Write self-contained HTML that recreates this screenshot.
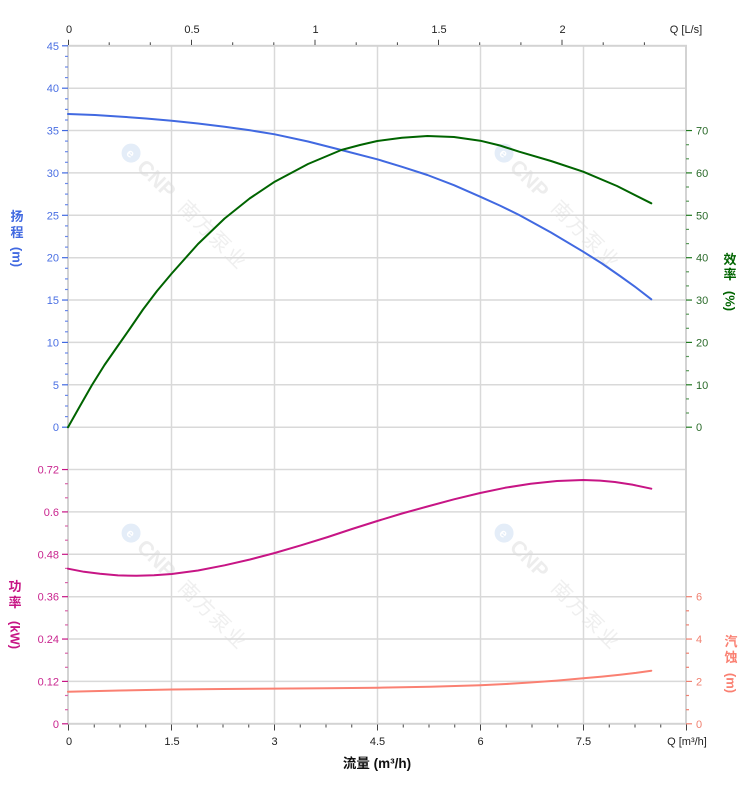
<!DOCTYPE html>
<html><head><meta charset="utf-8"><style>
html,body{margin:0;padding:0;background:#fff;}
svg{display:block;font-family:"Liberation Sans","Noto Sans CJK SC",sans-serif;}
</style></head><body>
<svg width="752" height="797" viewBox="0 0 752 797" xmlns="http://www.w3.org/2000/svg">
<rect width="752" height="797" fill="#fff"/>

<!-- watermarks -->
<g>
<g transform="translate(124,146) rotate(45)">
 <circle cx="10" cy="0" r="9.5" fill="#e4edf8"/>
 <text x="10" y="4.5" font-size="12" font-weight="bold" fill="#fff" text-anchor="middle">e</text>
 <text x="24" y="7.5" font-size="21" font-weight="bold" fill="#ededed">CNP</text>
 <text x="82" y="7" font-size="20" letter-spacing="2" fill="#efefef" font-family="'Noto Sans CJK SC',sans-serif">南方泵业</text>
</g>
</g>
<g transform="translate(373,0)"><g transform="translate(124,146) rotate(45)">
 <circle cx="10" cy="0" r="9.5" fill="#e4edf8"/>
 <text x="10" y="4.5" font-size="12" font-weight="bold" fill="#fff" text-anchor="middle">e</text>
 <text x="24" y="7.5" font-size="21" font-weight="bold" fill="#ededed">CNP</text>
 <text x="82" y="7" font-size="20" letter-spacing="2" fill="#efefef" font-family="'Noto Sans CJK SC',sans-serif">南方泵业</text>
</g></g>
<g transform="translate(0,380)"><g transform="translate(124,146) rotate(45)">
 <circle cx="10" cy="0" r="9.5" fill="#e4edf8"/>
 <text x="10" y="4.5" font-size="12" font-weight="bold" fill="#fff" text-anchor="middle">e</text>
 <text x="24" y="7.5" font-size="21" font-weight="bold" fill="#ededed">CNP</text>
 <text x="82" y="7" font-size="20" letter-spacing="2" fill="#efefef" font-family="'Noto Sans CJK SC',sans-serif">南方泵业</text>
</g></g>
<g transform="translate(373,380)"><g transform="translate(124,146) rotate(45)">
 <circle cx="10" cy="0" r="9.5" fill="#e4edf8"/>
 <text x="10" y="4.5" font-size="12" font-weight="bold" fill="#fff" text-anchor="middle">e</text>
 <text x="24" y="7.5" font-size="21" font-weight="bold" fill="#ededed">CNP</text>
 <text x="82" y="7" font-size="20" letter-spacing="2" fill="#efefef" font-family="'Noto Sans CJK SC',sans-serif">南方泵业</text>
</g></g>

<!-- horizontal grid -->
<g stroke="#d9d9d9" stroke-width="1.5">
<line x1="68" x2="686" y1="88.2" y2="88.2"/>
<line x1="68" x2="686" y1="130.55" y2="130.55"/>
<line x1="68" x2="686" y1="172.9" y2="172.9"/>
<line x1="68" x2="686" y1="215.3" y2="215.3"/>
<line x1="68" x2="686" y1="257.7" y2="257.7"/>
<line x1="68" x2="686" y1="300.05" y2="300.05"/>
<line x1="68" x2="686" y1="342.4" y2="342.4"/>
<line x1="68" x2="686" y1="384.8" y2="384.8"/>
<line x1="68" x2="686" y1="427.2" y2="427.2"/>
<line x1="68" x2="686" y1="469.55" y2="469.55"/>
<line x1="68" x2="686" y1="511.9" y2="511.9"/>
<line x1="68" x2="686" y1="554.3" y2="554.3"/>
<line x1="68" x2="686" y1="596.7" y2="596.7"/>
<line x1="68" x2="686" y1="639.05" y2="639.05"/>
<line x1="68" x2="686" y1="681.4" y2="681.4"/>
</g>
<!-- vertical grid -->
<g stroke="#d9d9d9" stroke-width="1.5">
<line x1="171.5" x2="171.5" y1="45.8" y2="723.8"/>
<line x1="274.5" x2="274.5" y1="45.8" y2="723.8"/>
<line x1="377.5" x2="377.5" y1="45.8" y2="723.8"/>
<line x1="480.5" x2="480.5" y1="45.8" y2="723.8"/>
<line x1="583.5" x2="583.5" y1="45.8" y2="723.8"/>
</g>
<!-- frame -->
<g stroke="#d3d3d3" stroke-width="2" fill="none">
<rect x="68" y="45.8" width="618" height="678"/>
</g>

<!-- top axis ticks -->
<g stroke="#444" stroke-width="1">
<line x1="68.5" x2="68.5" y1="39.8" y2="45"/>
<line x1="109.2" x2="109.2" y1="42.3" y2="45"/>
<line x1="150.3" x2="150.3" y1="42.3" y2="45"/>
<line x1="191.5" x2="191.5" y1="39.8" y2="45"/>
<line x1="232.7" x2="232.7" y1="42.3" y2="45"/>
<line x1="273.8" x2="273.8" y1="42.3" y2="45"/>
<line x1="315" x2="315" y1="39.8" y2="45"/>
<line x1="356.2" x2="356.2" y1="42.3" y2="45"/>
<line x1="397.4" x2="397.4" y1="42.3" y2="45"/>
<line x1="438.5" x2="438.5" y1="39.8" y2="45"/>
<line x1="479.7" x2="479.7" y1="42.3" y2="45"/>
<line x1="520.9" x2="520.9" y1="42.3" y2="45"/>
<line x1="562" x2="562" y1="39.8" y2="45"/>
<line x1="603.2" x2="603.2" y1="42.3" y2="45"/>
<line x1="644.4" x2="644.4" y1="42.3" y2="45"/>
</g>
<g font-size="11" fill="#222" text-anchor="middle">
<text x="69" y="33">0</text>
<text x="192" y="33">0.5</text>
<text x="315.5" y="33">1</text>
<text x="439" y="33">1.5</text>
<text x="562.5" y="33">2</text>
<text x="686" y="33">Q [L/s]</text>
</g>

<!-- bottom axis ticks -->
<g stroke="#444" stroke-width="1">
<line x1="68.5" x2="68.5" y1="724.5" y2="730.5"/>
<line x1="94.25" x2="94.25" y1="724.5" y2="727.5"/>
<line x1="120" x2="120" y1="724.5" y2="727.5"/>
<line x1="145.75" x2="145.75" y1="724.5" y2="727.5"/>
<line x1="171.5" x2="171.5" y1="724.5" y2="730.5"/>
<line x1="197.25" x2="197.25" y1="724.5" y2="727.5"/>
<line x1="223" x2="223" y1="724.5" y2="727.5"/>
<line x1="248.75" x2="248.75" y1="724.5" y2="727.5"/>
<line x1="274.5" x2="274.5" y1="724.5" y2="730.5"/>
<line x1="300.25" x2="300.25" y1="724.5" y2="727.5"/>
<line x1="326" x2="326" y1="724.5" y2="727.5"/>
<line x1="351.75" x2="351.75" y1="724.5" y2="727.5"/>
<line x1="377.5" x2="377.5" y1="724.5" y2="730.5"/>
<line x1="403.25" x2="403.25" y1="724.5" y2="727.5"/>
<line x1="429" x2="429" y1="724.5" y2="727.5"/>
<line x1="454.75" x2="454.75" y1="724.5" y2="727.5"/>
<line x1="480.5" x2="480.5" y1="724.5" y2="730.5"/>
<line x1="506.25" x2="506.25" y1="724.5" y2="727.5"/>
<line x1="532" x2="532" y1="724.5" y2="727.5"/>
<line x1="557.75" x2="557.75" y1="724.5" y2="727.5"/>
<line x1="583.5" x2="583.5" y1="724.5" y2="730.5"/>
<line x1="609.25" x2="609.25" y1="724.5" y2="727.5"/>
<line x1="635" x2="635" y1="724.5" y2="727.5"/>
<line x1="660.75" x2="660.75" y1="724.5" y2="727.5"/>
<line x1="686.5" x2="686.5" y1="724.5" y2="730.5"/>
</g>
<g font-size="11" fill="#222" text-anchor="middle">
<text x="69" y="745">0</text>
<text x="172" y="745">1.5</text>
<text x="274.5" y="745">3</text>
<text x="377.5" y="745">4.5</text>
<text x="480.5" y="745">6</text>
<text x="583.5" y="745">7.5</text>
<text x="687" y="745">Q [m³/h]</text>
</g>
<text x="377" y="768" font-size="13.5" font-weight="bold" fill="#111" text-anchor="middle">流量 (m³/h)</text>

<!-- left head axis -->
<g stroke="#4169e1" stroke-width="1.2">
<line x1="62" x2="68" y1="45.8" y2="45.8"/>
<line x1="62" x2="68" y1="88.2" y2="88.2"/>
<line x1="62" x2="68" y1="130.55" y2="130.55"/>
<line x1="62" x2="68" y1="172.9" y2="172.9"/>
<line x1="62" x2="68" y1="215.3" y2="215.3"/>
<line x1="62" x2="68" y1="257.7" y2="257.7"/>
<line x1="62" x2="68" y1="300.05" y2="300.05"/>
<line x1="62" x2="68" y1="342.4" y2="342.4"/>
<line x1="62" x2="68" y1="384.8" y2="384.8"/>
<line x1="62" x2="68" y1="427.2" y2="427.2"/>
</g>
<g stroke="#6a88ea" stroke-width="1.2">
<line x1="65" x2="68" y1="56.4" y2="56.4"/><line x1="65" x2="68" y1="67" y2="67"/><line x1="65" x2="68" y1="77.6" y2="77.6"/>
<line x1="65" x2="68" y1="98.8" y2="98.8"/><line x1="65" x2="68" y1="109.4" y2="109.4"/><line x1="65" x2="68" y1="120" y2="120"/>
<line x1="65" x2="68" y1="141.1" y2="141.1"/><line x1="65" x2="68" y1="151.7" y2="151.7"/><line x1="65" x2="68" y1="162.3" y2="162.3"/>
<line x1="65" x2="68" y1="183.5" y2="183.5"/><line x1="65" x2="68" y1="194.1" y2="194.1"/><line x1="65" x2="68" y1="204.7" y2="204.7"/>
<line x1="65" x2="68" y1="225.9" y2="225.9"/><line x1="65" x2="68" y1="236.5" y2="236.5"/><line x1="65" x2="68" y1="247.1" y2="247.1"/>
<line x1="65" x2="68" y1="268.3" y2="268.3"/><line x1="65" x2="68" y1="278.9" y2="278.9"/><line x1="65" x2="68" y1="289.5" y2="289.5"/>
<line x1="65" x2="68" y1="310.6" y2="310.6"/><line x1="65" x2="68" y1="321.2" y2="321.2"/><line x1="65" x2="68" y1="331.8" y2="331.8"/>
<line x1="65" x2="68" y1="353" y2="353"/><line x1="65" x2="68" y1="363.6" y2="363.6"/><line x1="65" x2="68" y1="374.2" y2="374.2"/>
<line x1="65" x2="68" y1="395.4" y2="395.4"/><line x1="65" x2="68" y1="406" y2="406"/><line x1="65" x2="68" y1="416.6" y2="416.6"/>
</g>
<g font-size="11" fill="#4a6fe3" text-anchor="end">
<text x="59" y="49.8">45</text>
<text x="59" y="92.2">40</text>
<text x="59" y="134.5">35</text>
<text x="59" y="176.9">30</text>
<text x="59" y="219.3">25</text>
<text x="59" y="261.7">20</text>
<text x="59" y="304">15</text>
<text x="59" y="346.4">10</text>
<text x="59" y="388.8">5</text>
<text x="59" y="431.2">0</text>
</g>

<!-- left power axis -->
<g stroke="#c71585" stroke-width="1.2">
<line x1="62" x2="68" y1="469.55" y2="469.55"/>
<line x1="62" x2="68" y1="511.9" y2="511.9"/>
<line x1="62" x2="68" y1="554.3" y2="554.3"/>
<line x1="62" x2="68" y1="596.7" y2="596.7"/>
<line x1="62" x2="68" y1="639.05" y2="639.05"/>
<line x1="62" x2="68" y1="681.4" y2="681.4"/>
<line x1="62" x2="68" y1="723.8" y2="723.8"/>
</g>
<g stroke="#d866aa" stroke-width="1.2">
<line x1="65" x2="68" y1="483.7" y2="483.7"/><line x1="65" x2="68" y1="497.8" y2="497.8"/>
<line x1="65" x2="68" y1="526" y2="526"/><line x1="65" x2="68" y1="540.2" y2="540.2"/>
<line x1="65" x2="68" y1="568.4" y2="568.4"/><line x1="65" x2="68" y1="582.6" y2="582.6"/>
<line x1="65" x2="68" y1="610.8" y2="610.8"/><line x1="65" x2="68" y1="624.9" y2="624.9"/>
<line x1="65" x2="68" y1="653.2" y2="653.2"/><line x1="65" x2="68" y1="667.3" y2="667.3"/>
<line x1="65" x2="68" y1="695.5" y2="695.5"/><line x1="65" x2="68" y1="709.7" y2="709.7"/>
</g>
<g font-size="11" fill="#c9258f" text-anchor="end">
<text x="59" y="473.5">0.72</text>
<text x="59" y="515.9">0.6</text>
<text x="59" y="558.3">0.48</text>
<text x="59" y="600.7">0.36</text>
<text x="59" y="643">0.24</text>
<text x="59" y="685.4">0.12</text>
<text x="59" y="727.8">0</text>
</g>

<!-- right efficiency axis -->
<g stroke="#1f7a1f" stroke-width="1.2">
<line x1="686" x2="692" y1="130.55" y2="130.55"/>
<line x1="686" x2="692" y1="172.9" y2="172.9"/>
<line x1="686" x2="692" y1="215.3" y2="215.3"/>
<line x1="686" x2="692" y1="257.7" y2="257.7"/>
<line x1="686" x2="692" y1="300.05" y2="300.05"/>
<line x1="686" x2="692" y1="342.4" y2="342.4"/>
<line x1="686" x2="692" y1="384.8" y2="384.8"/>
<line x1="686" x2="692" y1="427.2" y2="427.2"/>
</g>
<g stroke="#5a9a5a" stroke-width="1.2">
<line x1="686" x2="689" y1="144.7" y2="144.7"/><line x1="686" x2="689" y1="158.8" y2="158.8"/>
<line x1="686" x2="689" y1="187" y2="187"/><line x1="686" x2="689" y1="201.2" y2="201.2"/>
<line x1="686" x2="689" y1="229.4" y2="229.4"/><line x1="686" x2="689" y1="243.6" y2="243.6"/>
<line x1="686" x2="689" y1="271.8" y2="271.8"/><line x1="686" x2="689" y1="285.9" y2="285.9"/>
<line x1="686" x2="689" y1="314.2" y2="314.2"/><line x1="686" x2="689" y1="328.3" y2="328.3"/>
<line x1="686" x2="689" y1="356.5" y2="356.5"/><line x1="686" x2="689" y1="370.7" y2="370.7"/>
<line x1="686" x2="689" y1="398.9" y2="398.9"/><line x1="686" x2="689" y1="413" y2="413"/>
</g>
<g font-size="11" fill="#2a6a2a">
<text x="696" y="134.5">70</text>
<text x="696" y="176.9">60</text>
<text x="696" y="219.3">50</text>
<text x="696" y="261.7">40</text>
<text x="696" y="304">30</text>
<text x="696" y="346.4">20</text>
<text x="696" y="388.8">10</text>
<text x="696" y="431.2">0</text>
</g>

<!-- right NPSH axis -->
<g stroke="#f08070" stroke-width="1.2">
<line x1="686" x2="692" y1="596.7" y2="596.7"/>
<line x1="686" x2="692" y1="639.05" y2="639.05"/>
<line x1="686" x2="692" y1="681.4" y2="681.4"/>
<line x1="686" x2="692" y1="723.8" y2="723.8"/>
<line x1="686" x2="689" y1="610.8" y2="610.8"/><line x1="686" x2="689" y1="624.9" y2="624.9"/>
<line x1="686" x2="689" y1="653.2" y2="653.2"/><line x1="686" x2="689" y1="667.3" y2="667.3"/>
<line x1="686" x2="689" y1="695.5" y2="695.5"/><line x1="686" x2="689" y1="709.7" y2="709.7"/>
</g>
<g font-size="11" fill="#f08070">
<text x="696" y="600.7">6</text>
<text x="696" y="643">4</text>
<text x="696" y="685.4">2</text>
<text x="696" y="727.8">0</text>
</g>

<!-- axis titles -->
<g font-size="13" font-weight="bold" text-anchor="middle">
<g fill="#4169e1">
<text x="17" y="221">扬</text>
<text x="17" y="237">程</text>
<text transform="translate(17,257) rotate(90)" y="4.5">(m)</text>
</g>
<g fill="#c71585">
<text x="15" y="591">功</text>
<text x="15" y="607">率</text>
<text transform="translate(15,635) rotate(90)" y="4.5">(kW)</text>
</g>
<g fill="#006400">
<text x="730" y="264">效</text>
<text x="730" y="279">率</text>
<text transform="translate(730,301) rotate(90)" y="4.5">(%)</text>
</g>
<g fill="#fa8072">
<text x="731" y="646">汽</text>
<text x="731" y="662">蚀</text>
<text transform="translate(731,683) rotate(90)" y="4.5">(m)</text>
</g>
</g>

<!-- curves -->
<g fill="none" stroke-width="2" stroke-linejoin="round" stroke-linecap="round">
<polyline stroke="#4169e1" points="68,114 95,115 120,116.6 146,118.5 171.7,120.7 198,123.5 224.6,126.7 250,130.3 274.7,134.3 308,141.5 341.3,150 377.3,159.3 402,166.8 427.4,175 454,185.2 480.2,196.7 500,205.6 519.2,215 551,232.5 583.2,251.7 602,263.5 620,276 636,287.5 651.3,299.3"/>
<polyline stroke="#006400" points="68,427.3 80,406 92,385 104.5,365 117.4,346.5 130,328.5 143,309.5 157,291 171.7,273.5 198,244 224.6,218.5 249.6,198.5 274.7,181.7 308,164 341.3,150 360,145 377.3,141 402,137.7 427.4,136 454,137 480.2,140.7 500,145.5 519.2,151.7 551,161 583.2,171.7 617,186 651.3,203.3"/>
<polyline stroke="#c71585" points="68,568.7 84,571.8 100,573.8 118,575.4 136.5,575.8 154,575.3 171.7,574 198,570.5 224.6,565.3 250,559.5 274.7,553 301,545.3 327.9,537 352,529 377.3,521 402,513.5 427.4,506.5 454,499.3 480.2,493 505,487.8 530.7,483.7 557,481 583.2,480 600,480.6 614.9,482 633,484.8 651.3,488.7"/>
<polyline stroke="#fa8072" points="68,691.7 120,690.5 171.7,689.5 223,689 274.7,688.6 326,688.3 377.3,687.7 430,686.7 480.2,685.2 506,684 530,682.5 557,680.6 583.2,678.3 602,676.6 620,674.8 636,672.9 651.3,670.7"/>
</g>
</svg>
</body></html>
